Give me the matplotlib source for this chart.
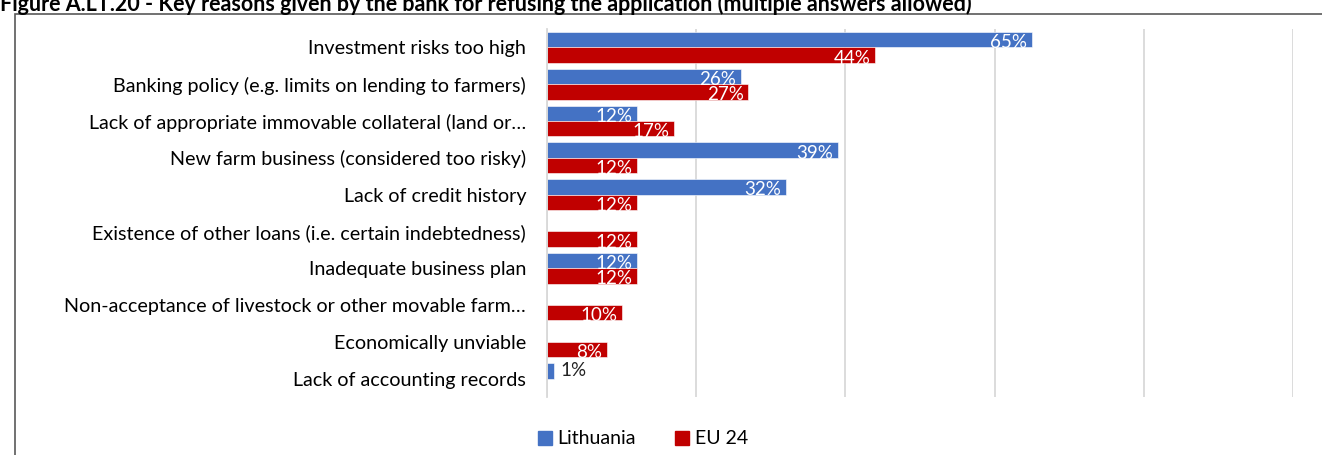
import numpy as np
import matplotlib.pyplot as plt
from matplotlib.patches import Rectangle

# reasons for refusal, top to bottom as in the chart
reasons = ['Investment risks too high',
           'Banking policy (e.g. limits on lending to farmers)',
           'Lack of appropriate immovable collateral (land or\u2026',
           'New farm business (considered too risky)',
           'Lack of credit history',
           'Existence of other loans (i.e. certain indebtedness)',
           'Inadequate business plan',
           'Non-acceptance of livestock or other movable farm\u2026',
           'Economically unviable',
           'Lack of accounting records']
lithuania = [0.65, 0.26, 0.12, 0.39, 0.32, None, 0.12, None, None, 0.01]
eu24 = [0.44, 0.27, 0.17, 0.12, 0.12, 0.12, 0.12, 0.10, 0.08, None]

blue = '#4472C4'
red = '#C00000'
plt.rcParams['font.family'] = ['Lato', 'DejaVu Sans']

fig = plt.figure(figsize=(13.22, 4.55), dpi=100)
ax = fig.add_axes([547/1322, 1-397/455, (1293-547)/1322, (397-29)/455])

y = np.arange(len(reasons))
h = 0.42
for i in range(len(reasons)):
    for val, off, col in [(lithuania[i], -h/2, blue), (eu24[i], h/2, red)]:
        if val is None:
            continue
        ax.barh(y[i] + off, val, height=h, color=col, edgecolor='white', linewidth=0.4)
        lab = f'{val*100:.0f}%'
        if val < 0.05:
            ax.text(val + 0.008, y[i] + off, lab, ha='left', va='center', fontsize=13.5, color='#222222')
        else:
            ax.text(val - 0.006, y[i] + off + 0.08, lab, ha='right', va='center', fontsize=13.5, color='white')

ax.set_xlim(0, 1)
ax.set_ylim(len(reasons) - 0.5, -0.5)
ax.set_xticks(np.arange(0, 1.01, 0.2))
ax.xaxis.grid(True, color='#d9d9d9', linewidth=1.3)
ax.set_axisbelow(True)
ax.tick_params(axis='x', length=0, labelbottom=False)
ax.tick_params(axis='y', length=0, labelsize=14.2, pad=15)
ax.set_yticks(y)
ax.set_yticklabels(reasons)
for s in ['top', 'right', 'bottom']:
    ax.spines[s].set_visible(False)
ax.spines['left'].set_color('#d9d9d9')
ax.spines['left'].set_linewidth(1.3)

# outer chart frame
fig.patches.append(Rectangle((15/1322, -0.01), 1.0, 1 - 14/455 + 0.01, transform=fig.transFigure,
                             fill=False, edgecolor='#595959', linewidth=1.2))

fig.text(0.0, 1 - 4/455, 'Figure A.LT.20 - Key reasons given by the bank for refusing the application (multiple answers allowed)',
         ha='left', va='center', fontsize=15.5, fontweight='bold')

handles = [Rectangle((0, 0), 1, 1, color=blue), Rectangle((0, 0), 1, 1, color=red)]
fig.legend(handles, ['Lithuania', 'EU 24'], loc='center', bbox_to_anchor=(643/1322, 1-439/455),
           ncol=2, frameon=False, fontsize=14, handlelength=0.7, handleheight=0.7,
           handletextpad=0.3, columnspacing=2.0)

fig.savefig('out.png', dpi=100)
